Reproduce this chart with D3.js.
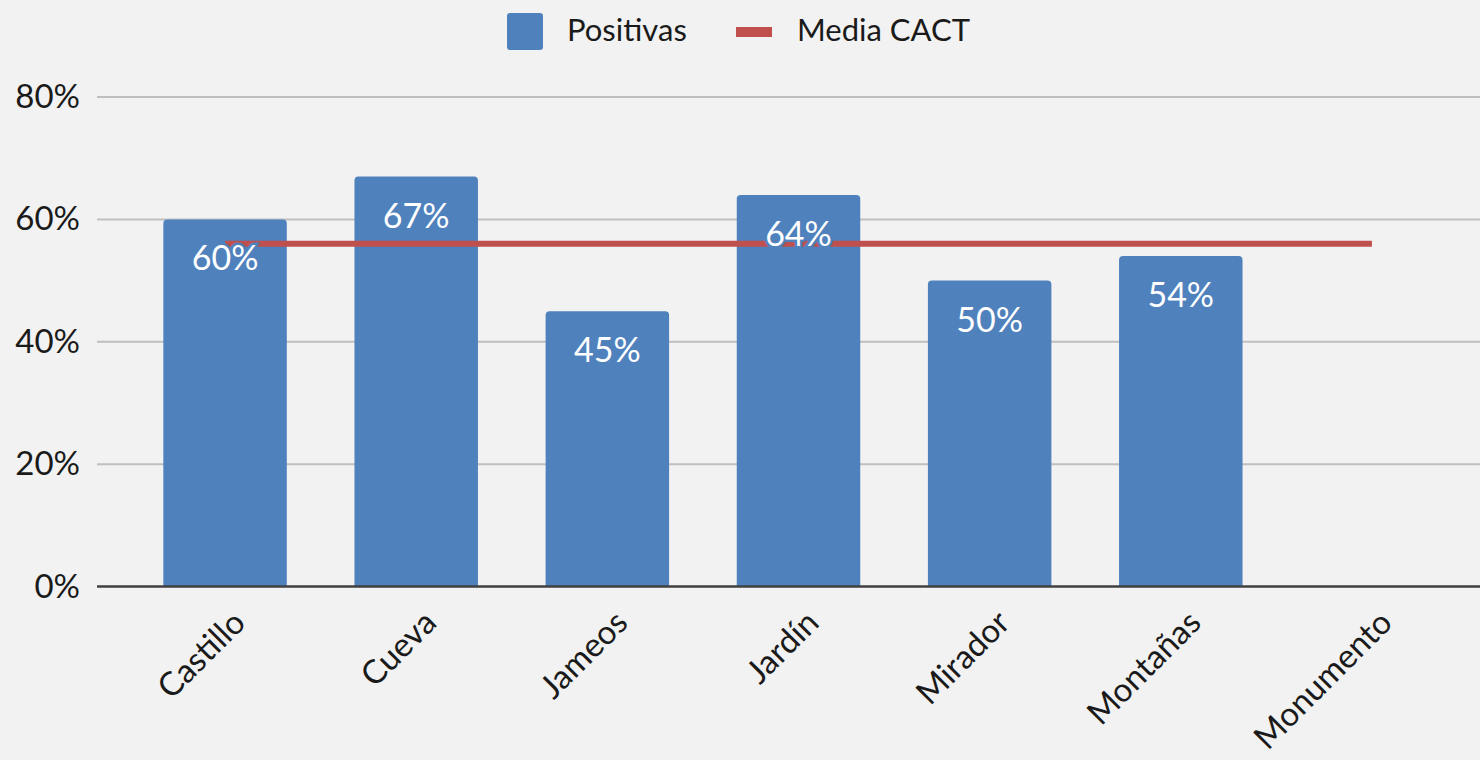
<!DOCTYPE html>
<html>
<head>
<meta charset="utf-8">
<script src="https://cdn.jsdelivr.net/npm/d3@7"></script>
<style>
  html, body { margin: 0; padding: 0; background: #f2f2f2; }
  svg { display: block; }
</style>
</head>
<body>
<svg id="chart" width="1480" height="760"></svg>
<script>
// Valoraciones positivas por centro y media global CACT
const categories = ["Castillo", "Cueva", "Jameos", "Jardín", "Mirador", "Montañas", "Monumento"];
const positivas = [60, 67, 45, 64, 50, 54, null];
const mediaCACT = 56;
const yTicks = [0, 20, 40, 60, 80];
const seriesNames = ["Positivas", "Media CACT"];

const W = 1480, H = 760;
const margin = { left: 97, right: -20, top: 97, bottom: 173.5 };
const FONT = "Lato, 'Open Sans', sans-serif";
const BLUE = "#4f81bd", RED = "#c0504d";

const svg = d3.select("#chart");
svg.append("rect").attr("width", W).attr("height", H).attr("fill", "#f2f2f2");

const x = d3.scaleBand()
  .domain(categories)
  .range([margin.left, W - margin.right])
  .paddingInner(0.354)
  .paddingOuter(0.347);

const y = d3.scaleLinear()
  .domain([0, 80])
  .range([H - margin.bottom, margin.top]);

// horizontal gridlines
svg.append("g")
  .selectAll("line")
  .data(yTicks.filter(t => t > 0))
  .join("line")
  .attr("x1", margin.left).attr("x2", W - margin.right)
  .attr("y1", d => y(d)).attr("y2", d => y(d))
  .attr("stroke", "#bfbfbf").attr("stroke-width", 2);

// y axis labels
const yAxis = d3.axisLeft(y).tickValues(yTicks).tickSize(0).tickPadding(17)
  .tickFormat(d => d + "%");
const gy = svg.append("g").attr("transform", `translate(${margin.left},0)`).call(yAxis);
gy.select(".domain").remove();
gy.selectAll("text").attr("font-family", FONT).attr("font-size", 33).attr("fill", "#1a1a1a");

// bars with slightly rounded tops
const r = 4;
const data = categories.map((c, i) => ({ c, v: positivas[i] })).filter(d => d.v != null);
svg.append("g")
  .selectAll("path")
  .data(data)
  .join("path")
  .attr("fill", BLUE)
  .attr("d", d => {
    const x0 = x(d.c), x1 = x0 + x.bandwidth(), y0 = y(0), y1 = y(d.v);
    return `M${x0},${y0}V${y1 + r}Q${x0},${y1} ${x0 + r},${y1}H${x1 - r}Q${x1},${y1} ${x1},${y1 + r}V${y0}Z`;
  });

// baseline axis
svg.append("line")
  .attr("x1", margin.left).attr("x2", W - margin.right)
  .attr("y1", y(0)).attr("y2", y(0))
  .attr("stroke", "#404040").attr("stroke-width", 2.5);

// average line across categories
const lineData = categories.map(c => ({ c, v: mediaCACT }));
svg.append("path")
  .datum(lineData)
  .attr("fill", "none")
  .attr("stroke", RED)
  .attr("stroke-width", 6)
  .attr("d", d3.line().x(d => x(d.c) + x.bandwidth() / 2).y(d => y(d.v)));

// value labels inside bar tops
svg.append("g")
  .selectAll("text")
  .data(data)
  .join("text")
  .attr("x", d => x(d.c) + x.bandwidth() / 2)
  .attr("y", d => y(d.v) + 51)
  .attr("text-anchor", "middle")
  .attr("font-family", FONT).attr("font-size", 34)
  .attr("fill", "#ffffff")
  .attr("stroke", BLUE).attr("stroke-width", 5)
  .attr("paint-order", "stroke")
  .text(d => d.v + "%");

// rotated category labels
svg.append("g")
  .selectAll("text")
  .data(categories)
  .join("text")
  .attr("transform", c => `translate(${x(c) + x.bandwidth() / 2 + 14},${y(0) + 30}) rotate(-45)`)
  .attr("text-anchor", "end")
  .attr("dy", "0.35em")
  .attr("font-family", FONT).attr("font-size", 33)
  .attr("fill", "#1a1a1a")
  .text(c => c);

// legend
const lg = svg.append("g");
lg.append("rect").attr("x", 507).attr("y", 13).attr("width", 36).attr("height", 37)
  .attr("rx", 3).attr("fill", BLUE);
lg.append("text").attr("x", 567).attr("y", 41)
  .attr("font-family", FONT).attr("font-size", 31).attr("fill", "#1a1a1a")
  .text(seriesNames[0]);
lg.append("rect").attr("x", 736).attr("y", 27).attr("width", 36).attr("height", 10)
  .attr("fill", RED);
lg.append("text").attr("x", 797).attr("y", 41)
  .attr("font-family", FONT).attr("font-size", 31).attr("fill", "#1a1a1a")
  .text(seriesNames[1]);
</script>
</body>
</html>
